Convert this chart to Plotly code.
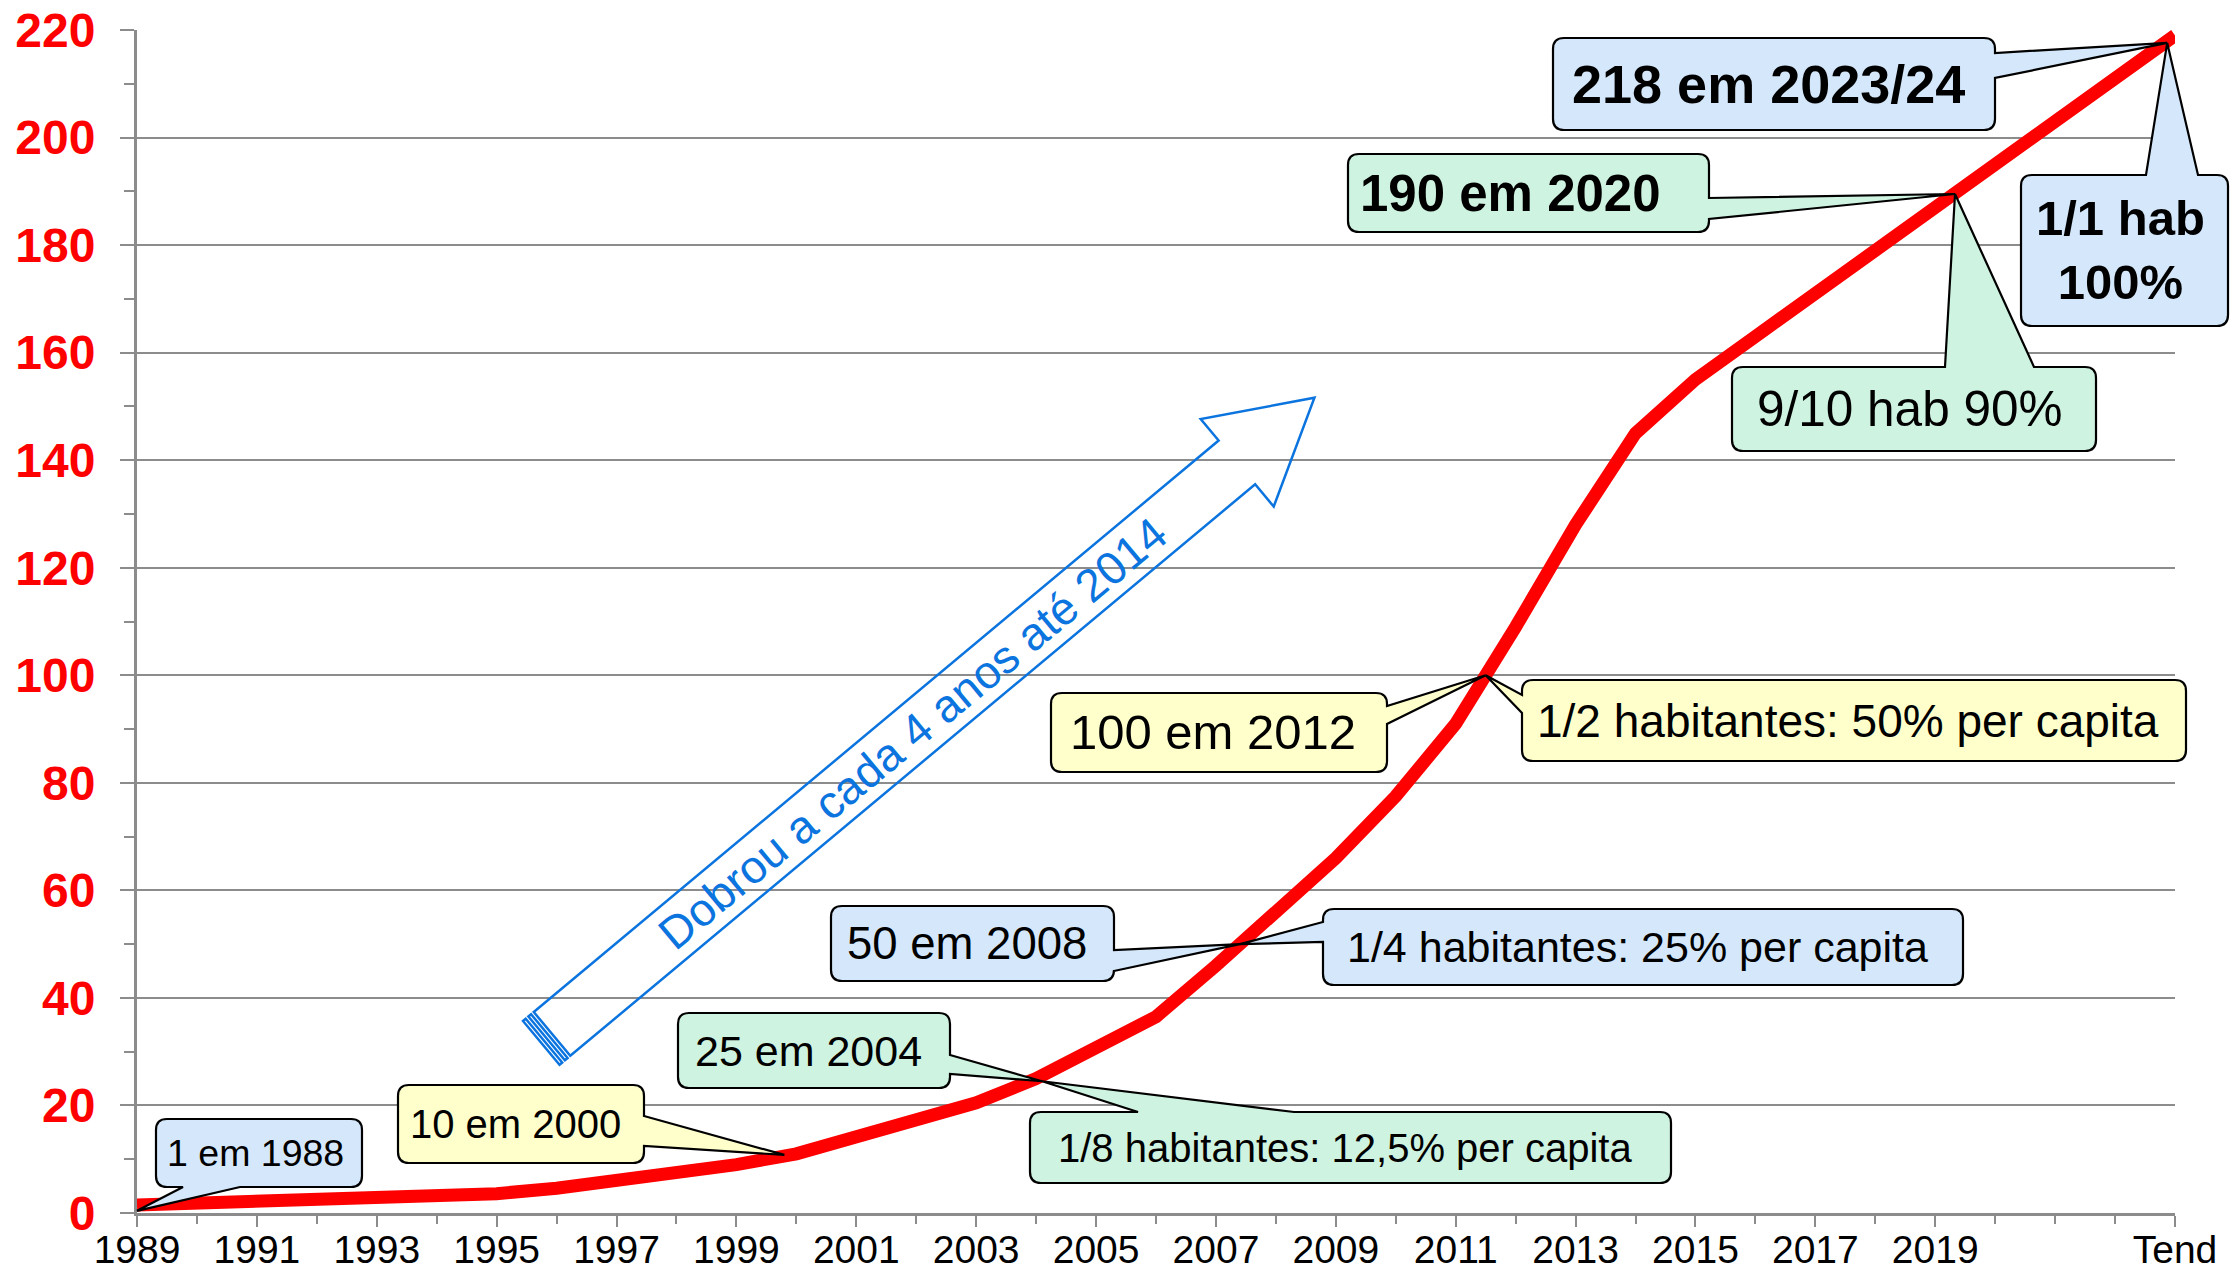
import plotly.graph_objects as go

# ---- data ----
years = [1989, 1990, 1991, 1992, 1993, 1994, 1995, 1996, 1997, 1998, 1999, 2000,
         2001, 2002, 2003, 2004, 2005, 2006, 2007, 2008, 2009, 2010, 2011, 2012,
         2013, 2014, 2015, 2016, 2017, 2018, 2019, 2020]
values = [1.5, 1.8, 2.0, 2.2, 2.5, 2.9, 3.6, 4.6, 5.9, 7.3, 9.0, 11.0,
          14.0, 17.0, 20.5, 25.0, 30.5, 36.5, 46.0, 56.0, 66.0, 77.5, 91.0, 109.0,
          128.0, 145.0, 155.0, 163.0, 171.0, 179.0, 187.0, 195.0]
trend_year = 2023
trend_label = "Tend"
trend_value = 219.0

x_tick_years = [1989, 1991, 1993, 1995, 1997, 1999, 2001, 2003, 2005, 2007,
                2009, 2011, 2013, 2015, 2017, 2019]
y_ticks = [0, 20, 40, 60, 80, 100, 120, 140, 160, 180, 200, 220]

BLUE = "#d5e8fb"
YELLOW = "#ffffcc"
GREEN = "#cff3e1"
ARROW_BLUE = "#0b74de"
GRID = "#8c8c8c"
FONT = "Liberation Sans, Arial, sans-serif"

# callouts: text, fill, font size, bold, box (px), wedge side, wedge base (px), tip (data), text x shift (px)
callouts = [
    ("1 em 1988", BLUE, 37.5, False, (156, 1119, 362, 1187), "bottom", (183, 240), (1989.0, 0.4), -4),
    ("10 em 2000", YELLOW, 40, False, (398, 1085, 644, 1163), "right", (1116, 1146), (1999.8, 10.8), -6),
    ("25 em 2004", GREEN, 43, False, (678, 1013, 950, 1088), "right", (1055, 1074), (2004.1, 24.5), -6),
    ("1/8 habitantes: 12,5% per capita", GREEN, 40, False, (1030, 1112, 1671, 1183), "top", (1138, 1294), (2004.1, 24.5), -6),
    ("50 em 2008", BLUE, 45.5, False, (831, 906, 1114, 981), "right", (950, 971), (2007.4, 50.0), -6),
    ("1/4 habitantes: 25% per capita", BLUE, 43, False, (1323, 909, 1963, 985), "left", (922, 942), (2007.4, 50.0), -6),
    ("100 em 2012", YELLOW, 49, False, (1051, 693, 1387, 772), "right", (706, 724), (2011.5, 100.0), -6),
    ("1/2 habitantes: 50% per capita", YELLOW, 46, False, (1522, 680, 2186, 761), "left", (695, 713), (2011.5, 100.0), -6),
    ("190 em 2020", GREEN, 51, True, (1348, 154, 1709, 232), "right", (198, 219), (2019.33, 189.5), -18),
    ("9/10 hab 90%", GREEN, 49.5, False, (1732, 367, 2096, 451), "top", (1945, 2034), (2019.33, 189.5), -4),
    ("218 em 2023/24", BLUE, 54, True, (1553, 38, 1995, 130), "right", (53, 78), (2022.87, 217.6), -6),
    ("1/1 hab<br>100%", BLUE, 49, True, (2021, 175, 2228, 326), "top", (2146, 2198), (2022.87, 217.6), -4),
]

# plot area in pixels
W, H = 2230, 1274
L, R, T, B = 137, 2175, 30, 1213
X0, X1, Y0, Y1 = 1989, 2023, 0, 220


def paper(px, py):
    return (px - L) / (R - L), (B - py) / (B - T)


def data_px(x, y):
    return L + (x - X0) / (X1 - X0) * (R - L), B - (y - Y0) / (Y1 - Y0) * (B - T)


def path_of(points):
    out = []
    for cmd, pts in points:
        coords = " ".join("%.5f,%.5f" % paper(*p) for p in pts)
        out.append(f"{cmd}{coords}")
    return " ".join(out) + " Z"


def callout_path(box, side, base, tip, r=11):
    x0, y0, x1, y1 = box
    a, b = base
    p = [("M", [(x0 + r, y0)])]
    if side == "top":
        p += [("L", [(a, y0)]), ("L", [tip]), ("L", [(b, y0)])]
    p += [("L", [(x1 - r, y0)]), ("Q", [(x1, y0), (x1, y0 + r)])]
    if side == "right":
        p += [("L", [(x1, a)]), ("L", [tip]), ("L", [(x1, b)])]
    p += [("L", [(x1, y1 - r)]), ("Q", [(x1, y1), (x1 - r, y1)])]
    if side == "bottom":
        p += [("L", [(b, y1)]), ("L", [tip]), ("L", [(a, y1)])]
    p += [("L", [(x0 + r, y1)]), ("Q", [(x0, y1), (x0, y1 - r)])]
    if side == "left":
        p += [("L", [(x0, b)]), ("L", [tip]), ("L", [(x0, a)])]
    p += [("L", [(x0, y0 + r)]), ("Q", [(x0, y0), (x0 + r, y0)])]
    return path_of(p)


fig = go.Figure()
fig.add_trace(go.Scatter(
    x=years + [trend_year], y=values + [trend_value], mode="lines",
    line=dict(color="#ff0000", width=13), hoverinfo="skip", showlegend=False,
))

shapes = []
annotations = []
for text, fill, size, bold, box, side, base, tip, dx in callouts:
    tip_px = data_px(*tip)
    shapes.append(dict(type="path", xref="paper", yref="paper", layer="above",
                       path=callout_path(box, side, base, tip_px),
                       fillcolor=fill, line=dict(color="#000000", width=2.2)))
    cx, cy = paper((box[0] + box[2]) / 2 + dx, (box[1] + box[3]) / 2)
    annotations.append(dict(x=cx, y=cy, xref="paper", yref="paper", text=text, showarrow=False,
                            xanchor="center", yanchor="middle", align="center",
                            font=dict(family=FONT, size=size, color="#000000",
                                      weight="bold" if bold else "normal")))

# striped block arrow "Dobrou a cada 4 anos até 2014"
ax0, ay0 = 523, 1021
ux, uy = 0.7678, -0.6407
nx, ny = 0.6407, 0.7678


def arrow_pt(u, v):
    return ax0 + u * ux + v * nx, ay0 + u * uy + v * ny


body = [(14, 0), (906, 0), (906, -28), (1007, 28.5), (906, 86), (906, 57), (14, 57)]
stripes = [[(0, 0), (3.5, 0), (3.5, 57), (0, 57)], [(7, 0), (10.5, 0), (10.5, 57), (7, 57)]]
for poly in [body] + stripes:
    pts = [arrow_pt(u, v) for u, v in poly]
    segs = [("M", [pts[0]])] + [("L", [q]) for q in pts[1:]]
    shapes.append(dict(type="path", xref="paper", yref="paper", layer="above",
                       path=path_of(segs), line=dict(color=ARROW_BLUE, width=2.5)))
tx, ty = paper(*arrow_pt(484, 28.5))
annotations.append(dict(x=tx, y=ty, xref="paper", yref="paper", showarrow=False,
                        text="Dobrou a cada 4 anos até 2014", textangle=-39.8,
                        xanchor="center", yanchor="middle",
                        font=dict(family=FONT, size=46, color=ARROW_BLUE)))

fig.update_layout(
    width=W, height=H,
    margin=dict(l=L, r=W - R, t=T, b=H - B, autoexpand=False),
    paper_bgcolor="white", plot_bgcolor="white",
    shapes=shapes, annotations=annotations, showlegend=False,
    xaxis=dict(
        range=[X0, X1], tickmode="array",
        tickvals=x_tick_years + [trend_year],
        ticktext=[str(v) for v in x_tick_years] + [trend_label],
        ticks="outside", ticklen=11, tickwidth=2, tickcolor=GRID,
        showline=True, linecolor=GRID, linewidth=3, showgrid=False, zeroline=False,
        tickfont=dict(family=FONT, size=39, color="#000000"),
        minor=dict(dtick=1, tick0=1989, ticks="outside", ticklen=8, tickwidth=2, tickcolor=GRID),
        ticklabelstandoff=-11,
    ),
    yaxis=dict(
        range=[Y0, Y1], tickmode="array", tickvals=y_ticks,
        ticks="outside", ticklen=14, tickwidth=2, tickcolor=GRID,
        showline=True, linecolor=GRID, linewidth=3,
        showgrid=True, gridcolor=GRID, gridwidth=2, zeroline=False,
        tickfont=dict(family=FONT, size=48, color="#ff0000", weight="bold"),
        minor=dict(dtick=10, tick0=0, ticks="outside", ticklen=10, tickwidth=2, tickcolor=GRID,
                   showgrid=False),
        ticklabelstandoff=15,
    ),
)

# the page would otherwise add its default 8px body margin around the figure
fig.write_html("out.html", config={"displayModeBar": False},
               post_script="document.body.style.margin='0';document.body.style.overflow='hidden';")
